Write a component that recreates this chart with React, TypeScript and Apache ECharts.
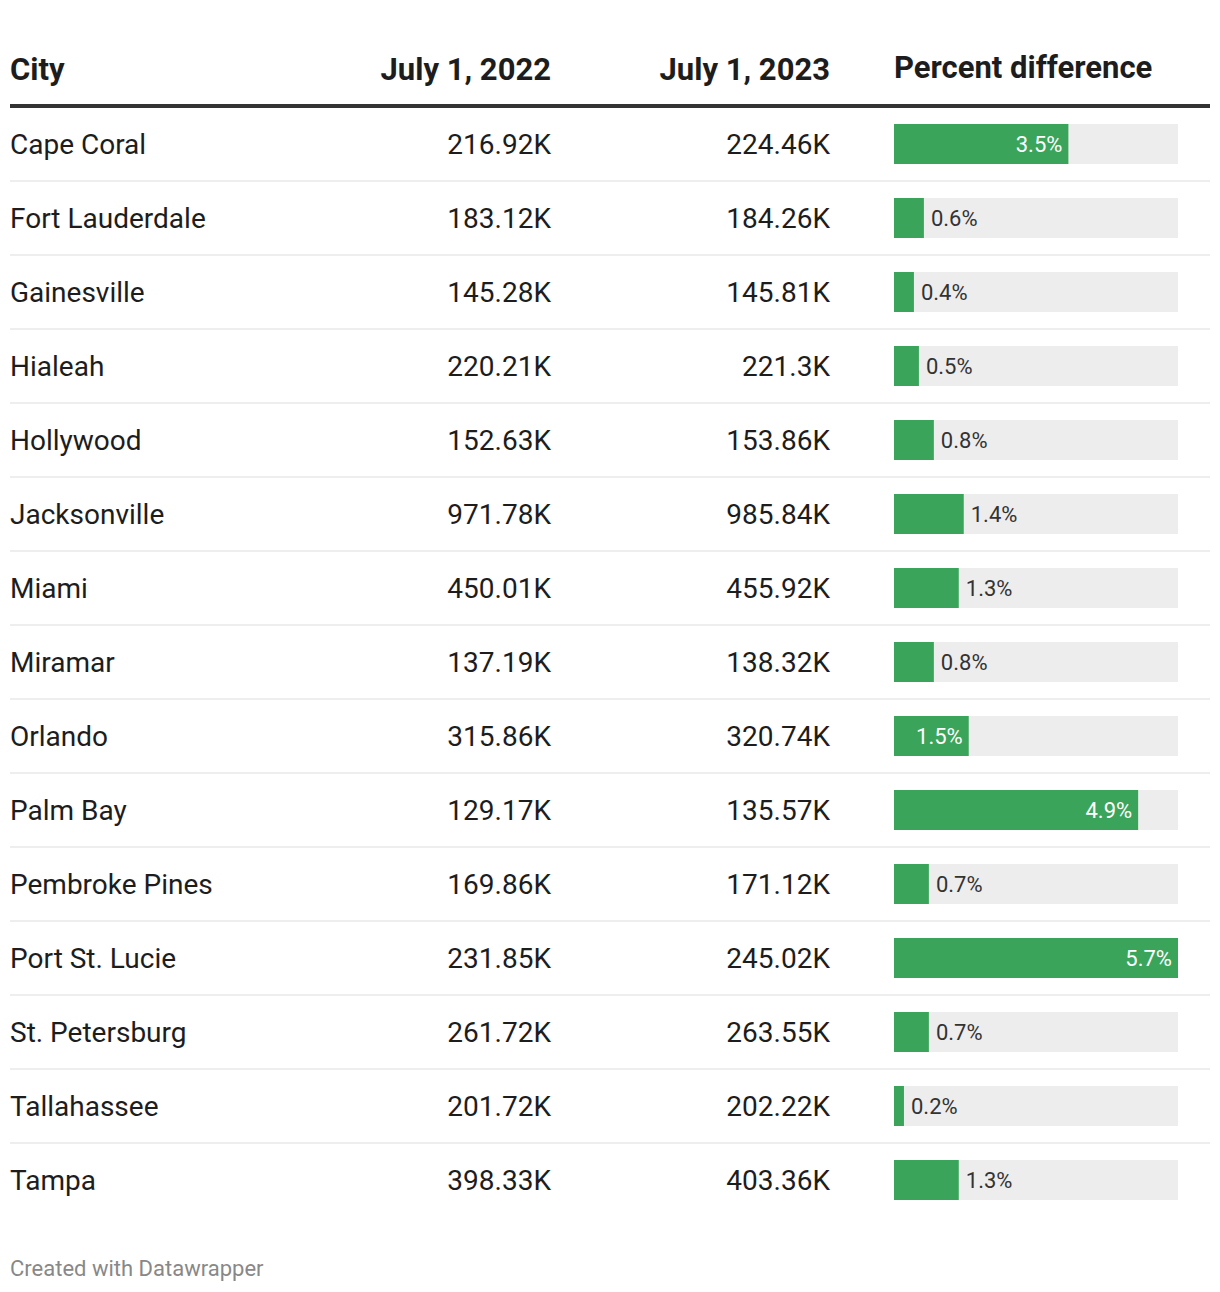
import React, { useEffect, useRef } from "react";
import * as echarts from "echarts";

const cities = [
  "Cape Coral", "Fort Lauderdale", "Gainesville", "Hialeah", "Hollywood",
  "Jacksonville", "Miami", "Miramar", "Orlando", "Palm Bay",
  "Pembroke Pines", "Port St. Lucie", "St. Petersburg", "Tallahassee", "Tampa",
];
const pop2022 = [216.92, 183.12, 145.28, 220.21, 152.63, 971.78, 450.01, 137.19, 315.86, 129.17, 169.86, 231.85, 261.72, 201.72, 398.33];
const pop2023 = [224.46, 184.26, 145.81, 221.3, 153.86, 985.84, 455.92, 138.32, 320.74, 135.57, 171.12, 245.02, 263.55, 202.22, 403.36];
const pctDiff = [3.5, 0.6, 0.4, 0.5, 0.8, 1.4, 1.3, 0.8, 1.5, 4.9, 0.7, 5.7, 0.7, 0.2, 1.3];
const headers = ["City", "July 1, 2022", "July 1, 2023", "Percent difference"];
const footer = "Created with Datawrapper";

const FONT = "Roboto";
const TEXT = "#1d1d1d";

export default function App() {
  const ref = useRef<HTMLDivElement>(null);
  useEffect(() => {
    document.body.style.margin = "0";
    const chart = echarts.init(ref.current!, undefined, { renderer: "svg" });
    const maxPct = Math.max(...pctDiff);
    const rowH = 74;
    const top = 107;
    const n = cities.length;
    const barLeft = 894;
    const barW = 284;
    const catAxis = (data: string[], offset: number, align: string) => ({
      type: "category",
      gridIndex: 0,
      data,
      inverse: true,
      position: "left",
      offset,
      axisLine: { show: false },
      axisTick: { show: false },
      splitLine: { show: false },
      axisLabel: {
        show: true,
        margin: 0,
        align,
        verticalAlign: "middle",
        color: TEXT,
        fontFamily: FONT,
        fontSize: 28,
      },
    });
    const option: any = {
      animation: false,
      backgroundColor: "#ffffff",
      grid: [
        { left: barLeft, width: barW, top, height: rowH * n },
        { left: 10, right: 10, top: top + rowH - 0, height: rowH * (n - 2) },
      ],
      xAxis: [
        { type: "value", gridIndex: 0, min: 0, max: maxPct, show: false },
        { type: "value", gridIndex: 1, min: 0, max: 1, show: false },
      ],
      yAxis: [
        catAxis(cities, barLeft - 10, "left"),
        catAxis(pop2022.map((v) => `${v}K`), barLeft - 551, "right"),
        catAxis(pop2023.map((v) => `${v}K`), barLeft - 830, "right"),
        {
          type: "value",
          gridIndex: 1,
          min: 0,
          max: n - 2,
          interval: 1,
          inverse: true,
          axisLine: { show: false },
          axisTick: { show: false },
          axisLabel: { show: false },
          splitLine: { show: true, lineStyle: { color: "#eeeeee", width: 2 } },
        },
      ],
      series: [
        {
          type: "bar",
          xAxisIndex: 0,
          yAxisIndex: 0,
          barWidth: 40,
          showBackground: true,
          backgroundStyle: { color: "#ededed" },
          itemStyle: { color: "#3aa45b" },
          data: pctDiff.map((v) => {
            const inside = v >= 1.5;
            return {
              value: v,
              label: {
                show: true,
                position: inside ? "insideRight" : "right",
                distance: inside ? 6 : 7,
                color: inside ? "#ffffff" : "#333333",
                fontFamily: FONT,
                fontSize: 22,
                formatter: (p: any) => `${p.value.toFixed(1)}%`,
              },
            };
          }),
        },
      ],
      graphic: [
        {
          type: "line",
          shape: { x1: 10, y1: 106, x2: 1210, y2: 106 },
          style: { stroke: "#333333", lineWidth: 4 },
          z: 10,
        },
        {
          type: "text", x: 10, y: 69,
          style: { text: headers[0], fill: TEXT, font: `bold 31px ${FONT}`, textAlign: "left", textVerticalAlign: "middle" },
        },
        {
          type: "text", x: 551, y: 69,
          style: { text: headers[1], fill: TEXT, font: `bold 31px ${FONT}`, textAlign: "right", textVerticalAlign: "middle" },
        },
        {
          type: "text", x: 830, y: 69,
          style: { text: headers[2], fill: TEXT, font: `bold 31px ${FONT}`, textAlign: "right", textVerticalAlign: "middle" },
        },
        {
          type: "text", x: 894, y: 67,
          style: { text: headers[3], fill: TEXT, font: `bold 31px ${FONT}`, textAlign: "left", textVerticalAlign: "middle" },
        },
        {
          type: "text", x: 10, y: 1268,
          style: { text: footer, fill: "#888888", font: `22px ${FONT}`, textAlign: "left", textVerticalAlign: "middle" },
        },
      ],
    };
    chart.setOption(option);
    return () => chart.dispose();
  }, []);
  return <div ref={ref} style={{ width: 1220, height: 1292 }} />;
}
